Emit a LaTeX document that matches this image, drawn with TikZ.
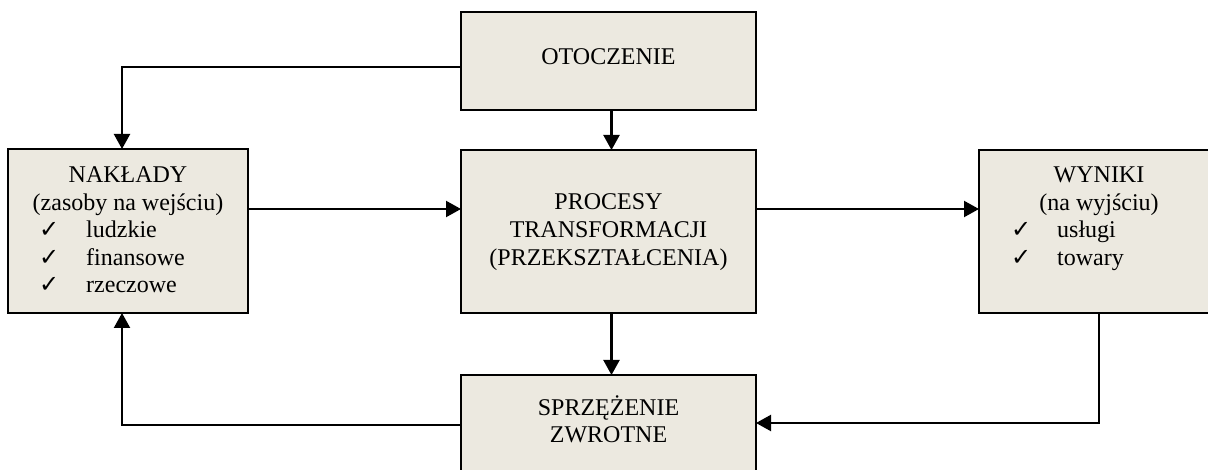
\documentclass[tikz,border=0pt]{standalone}
\usepackage{fontspec}
\setmainfont{Liberation Serif}
\newfontfamily\symfont{DejaVu Sans}
\usetikzlibrary{arrows.meta}
\definecolor{boxfill}{RGB}{236,233,224}
\newcommand{\chk}{{\symfont\fontsize{24}{28}\selectfont ✓}}
\begin{document}
\begin{tikzpicture}[x=1pt,y=-1pt,
  box/.style={draw=black,line width=2.2pt,fill=boxfill,inner sep=0pt,outer sep=0pt},
  txt/.style={inner sep=0pt,anchor=base,font=\fontsize{24}{28}\selectfont},
  item/.style={inner sep=0pt,anchor=base west,font=\fontsize{24}{28}\selectfont},
  tick/.style={inner sep=0pt,anchor=base west},
  arr/.style={line width=2.2pt,-{Triangle[length=15pt,width=16pt]}}]
\useasboundingbox (0,0) rectangle (1208,470);
\clip (0,0) rectangle (1208,470);

% boxes
\node[box,minimum width=295pt,minimum height=98pt]  (oto)  at (608.5,61) {};
\node[box,minimum width=240pt,minimum height=164pt] (nak)  at (128,231) {};
\node[box,minimum width=295pt,minimum height=163pt] (proc) at (608.5,231.5) {};
\node[box,minimum width=240pt,minimum height=163pt] (wyn)  at (1099,231.5) {};
\node[box,minimum width=295pt,minimum height=100pt] (spr)  at (608.5,425) {};

% OTOCZENIE
\node[txt] (otoT) at (608.5,65) {OTOCZENIE};

% NAKŁADY
\node[txt] (nakT1) at (128,183) {NAKŁADY};
\node[txt] (nakT2) at (128,210.5) {(zasoby na wejściu)};
\node[tick] (nakC1) at (39,238) {\chk};
\node[item] (nakI1) at (86,238) {ludzkie};
\node[tick] (nakC2) at (39,265.5) {\chk};
\node[item] (nakI2) at (86,265.5) {finansowe};
\node[tick] (nakC3) at (39,293) {\chk};
\node[item] (nakI3) at (86,293) {rzeczowe};

% PROCESY
\node[txt] (procT1) at (608.5,210) {PROCESY};
\node[txt] (procT2) at (608.5,238) {TRANSFORMACJI};
\node[txt] (procT3) at (608.5,266) {(PRZEKSZTAŁCENIA)};

% WYNIKI
\node[txt] (wynT1) at (1099,183) {WYNIKI};
\node[txt] (wynT2) at (1099,210.5) {(na wyjściu)};
\node[tick] (wynC1) at (1011,238) {\chk};
\node[item] (wynI1) at (1057,238) {usługi};
\node[tick] (wynC2) at (1011,265.5) {\chk};
\node[item] (wynI2) at (1057,265.5) {towary};

% SPRZĘŻENIE ZWROTNE
\node[txt] (sprT1) at (608.5,415) {SPRZĘŻENIE};
\node[txt] (sprT2) at (608.5,442) {ZWROTNE};

% helper levels
\coordinate (flow) at (0,209);
\coordinate (topl) at (0,67);
\coordinate (leftx) at (122,0);

% connectors
\draw[arr] (oto.west |- topl) -| (leftx |- nak.north);
\draw[arr] ([xshift=3pt]oto.south) -- ([xshift=3pt]proc.north);
\draw[arr] (nak.east |- flow) -- (proc.west |- flow);
\draw[arr] (proc.east |- flow) -- (wyn.west |- flow);
\draw[arr] ([xshift=3pt]proc.south) -- ([xshift=3pt]spr.north);
\draw[arr] (wyn.south) |- ([yshift=2pt]spr.east);
\draw[arr] (spr.west) -| (leftx |- nak.south);
\end{tikzpicture}
\end{document}
